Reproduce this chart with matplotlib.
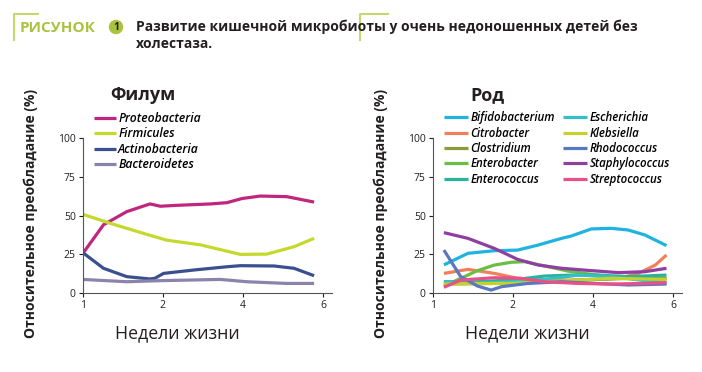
import matplotlib.pyplot as plt
from matplotlib.patches import Circle
from matplotlib.lines import Line2D

plt.rcParams['font.family'] = ['Open Sans', 'DejaVu Sans']

# x in tick-slot units: slot 0,1,2,3 -> weeks 1,2,4,6
week_ticks = ['1', '2', '4', '6']

# --- phylum panel ---
x_prot = [0.01, 0.26, 0.55, 0.84, 0.97, 1.18, 1.6, 1.8, 1.99, 2.22, 2.55, 2.89]
y_prot = [26, 44, 52.5, 57.5, 56, 56.6, 57.5, 58.3, 61, 62.6, 62.2, 58.7]
x_firm = [0.0, 0.34, 0.76, 1.05, 1.47, 1.97, 2.3, 2.64, 2.89]
y_firm = [50.8, 45, 38.4, 34, 31, 24.8, 25, 29.8, 35.2]
x_actino = [0.0, 0.26, 0.55, 0.84, 0.9, 1.01, 1.39, 1.8, 1.97, 2.39, 2.64, 2.89]
y_actino = [26, 15.8, 10.4, 8.9, 9.3, 12.5, 14.7, 16.8, 17.5, 17.3, 15.8, 11]
x_bact = [0.0, 0.55, 0.97, 1.72, 2.05, 2.55, 2.89]
y_bact = [8.6, 7.1, 7.8, 8.6, 7.1, 6, 6]

phylum = [
    ('Proteobacteria', x_prot, y_prot, '#c0267e'),
    ('Firmicules', x_firm, y_firm, '#c5d92d'),
    ('Actinobacteria', x_actino, y_actino, '#3a4f8f'),
    ('Bacteroidetes', x_bact, y_bact, '#8a84ad'),
]

# --- genus panel ---
x_bifido = [0.14, 0.44, 0.77, 1.06, 1.32, 1.61, 1.73, 1.98, 2.23, 2.44, 2.65, 2.92]
y_bifido = [18, 25.5, 27.2, 27.6, 30.9, 35.2, 36.7, 41.3, 41.7, 40.6, 37.4, 30.5]
x_citro = [0.14, 0.44, 0.77, 1.06, 1.4, 1.73, 2.07, 2.32, 2.57, 2.78, 2.92]
y_citro = [12.5, 15.1, 12.5, 9.3, 8.2, 8.2, 8.6, 9.3, 12.5, 17.9, 24.4]
x_clost = [0.14, 0.77, 1.4, 2.03, 2.44, 2.92]
y_clost = [5.6, 6, 7.1, 8.6, 9.3, 9.3]
x_entb = [0.14, 0.35, 0.56, 0.77, 0.98, 1.15, 1.4, 1.69, 1.98, 2.32, 2.65, 2.92]
y_entb = [4.3, 9.3, 14.3, 17.9, 19.7, 20.1, 17.3, 14, 11.9, 9.7, 8.6, 8.2]
x_entc = [0.14, 0.56, 0.98, 1.4, 1.73, 2.07, 2.44, 2.92]
y_entc = [7.1, 7.1, 8.2, 10.8, 11.4, 11.4, 10.4, 11.4]
x_esch = [0.14, 0.56, 0.98, 1.4, 1.82, 2.23, 2.65, 2.92]
y_esch = [7, 6, 7, 8.6, 11.4, 10.4, 7.8, 6]
x_kleb = [0.14, 0.56, 0.98, 1.4, 1.82, 2.23, 2.92]
y_kleb = [5.6, 6, 6, 7.1, 8.2, 9.3, 8.6]
x_rhodo = [0.14, 0.35, 0.56, 0.73, 0.86, 1.19, 1.61, 2.03, 2.44, 2.92]
y_rhodo = [27.6, 10.4, 4.3, 1.7, 3.9, 6, 7.1, 6, 5, 5.6]
x_staph = [0.14, 0.44, 0.77, 1.06, 1.32, 1.61, 1.98, 2.32, 2.65, 2.92]
y_staph = [38.9, 35.2, 28.7, 21.6, 17.9, 15.8, 14.3, 13, 13.6, 15.8]
x_strep = [0.14, 0.35, 0.77, 1.1, 1.4, 1.82, 2.23, 2.65, 2.92]
y_strep = [3.5, 8.2, 9.7, 9.3, 7.1, 6, 5.6, 6, 6.5]

genus = [
    ('Bifidobacterium', x_bifido, y_bifido, '#1fb3e0'),
    ('Citrobacter', x_citro, y_citro, '#f0805a'),
    ('Clostridium', x_clost, y_clost, '#8d9a3a'),
    ('Enterobacter', x_entb, y_entb, '#6abd45'),
    ('Enterococcus', x_entc, y_entc, '#2bb39a'),
    ('Escherichia', x_esch, y_esch, '#35bfc9'),
    ('Klebsiella', x_kleb, y_kleb, '#c5d22d'),
    ('Rhodococcus', x_rhodo, y_rhodo, '#5a78c0'),
    ('Staphylococcus', x_staph, y_staph, '#8e3fa0'),
    ('Streptococcus', x_strep, y_strep, '#e8508a'),
]

fig = plt.figure(figsize=(7.02, 3.72), dpi=100)
W, H = 702, 372
dark = '#231f20'
green = '#a9c23f'


def make_axes(left_px, series, title, title_x):
    ax = fig.add_axes([left_px / W, (H - 292.7) / H, 249 / W, 154.4 / H])
    for name, xs, ys, c in series:
        ax.plot(xs, ys, color=c, lw=2.3, solid_capstyle='butt', solid_joinstyle='round', label=name)
    ax.set_xlim(0, 3.11)
    ax.set_ylim(0, 100)
    ax.set_xticks(range(4))
    ax.set_xticklabels(week_ticks)
    ax.set_yticks([0, 25, 50, 75, 100])
    ax.tick_params(labelsize=7.5, colors=dark, length=3, width=0.8, pad=2)
    for s in ['top', 'right']:
        ax.spines[s].set_visible(False)
    for s in ['left', 'bottom']:
        ax.spines[s].set_color('#555555')
        ax.spines[s].set_linewidth(0.8)
    fig.text(title_x / W, 1 - 95 / H, title, fontsize=13, fontweight='bold', color=dark, va='center')
    fig.text((left_px - 52) / W, 1 - 214 / H, 'Относительное преобладание (%)', rotation=90,
             fontsize=10, fontweight='bold', color=dark, ha='center', va='center')
    fig.text((left_px + 94.5) / W, 1 - 333 / H, 'Недели жизни', fontsize=12.8, color=dark,
             fontweight='medium', ha='center', va='center')
    return ax


leg_kw = dict(loc='upper left', frameon=False, handletextpad=0.2, labelspacing=0.2,
              borderaxespad=0, borderpad=0)

ax1 = make_axes(82.7, phylum, 'Филум', 110)
ax1.legend(bbox_to_anchor=((94 - 82.7) / 249, (138.3 - 112) / 154.4 + 1),
           prop={'style': 'italic', 'weight': 'semibold', 'size': 8.7}, handlelength=1.8, **leg_kw)
ax2 = make_axes(432.7, genus, 'Род', 470)
ax2.legend(bbox_to_anchor=((444 - 432.7) / 249, (138.3 - 111.5) / 154.4 + 1), ncol=2,
           prop={'style': 'italic', 'weight': 'semibold', 'size': 8.3}, handlelength=2.1,
           columnspacing=0.7, **leg_kw)

# header
for bx, ex in [(14, 38), (360, 388)]:
    fig.add_artist(Line2D([bx / W, bx / W, ex / W], [1 - 40 / H, 1 - 14 / H, 1 - 14 / H],
                          color='#c5d86d', lw=1.5))
fig.text(20 / W, 1 - 28 / H, 'РИСУНОК', fontsize=11, fontweight='bold', color=green, va='center')
fig.add_artist(Circle((116 / 100, (H - 27) / 100), 0.065, color=green,
                      transform=fig.dpi_scale_trans))
fig.text(116 / W, 1 - 27 / H, '1', fontsize=7.5, fontweight='bold', color=dark, ha='center', va='center')
fig.text(136 / W, 1 - 27 / H, 'Развитие кишечной микробиоты у очень недоношенных детей без',
         fontsize=10, fontweight='bold', color=dark, va='center')
fig.text(136 / W, 1 - 44 / H, 'холестаза.', fontsize=10, fontweight='bold', color=dark, va='center')

fig.savefig('out.png', dpi=100)
